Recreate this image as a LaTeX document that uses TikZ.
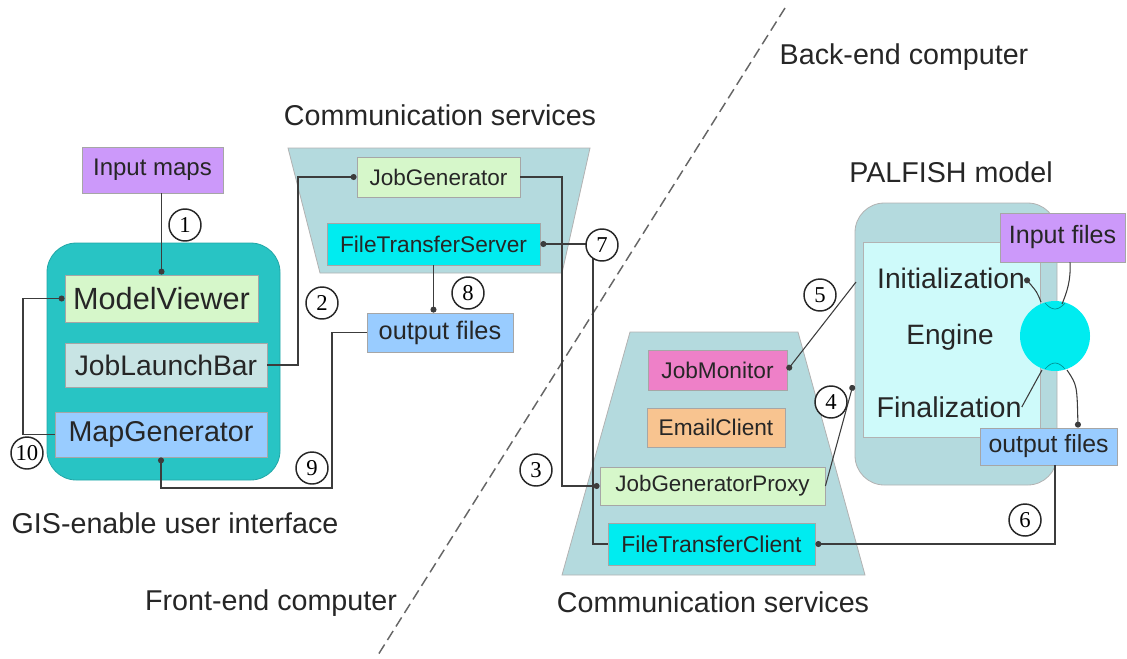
\documentclass[tikz,border=0pt]{standalone}
\usepackage{fontspec}
\setmainfont{Liberation Sans}
\newfontfamily\numfont{Liberation Serif}
\usetikzlibrary{arrows.meta}

\definecolor{cpurple}{RGB}{204,153,250}
\definecolor{cgreen}{RGB}{214,247,202}
\definecolor{cgrayblue}{RGB}{200,228,228}
\definecolor{cblue}{RGB}{153,204,255}
\definecolor{ccyan}{RGB}{0,236,240}
\definecolor{cpink}{RGB}{238,128,200}
\definecolor{corange}{RGB}{248,196,144}
\definecolor{cteal}{RGB}{40,196,196}
\definecolor{cpanel}{RGB}{180,218,222}
\definecolor{cengine}{RGB}{206,250,250}
\definecolor{cline}{RGB}{60,60,60}
\definecolor{ctext}{RGB}{38,38,38}

\begin{document}
\begin{tikzpicture}[x=0.75pt,y=-0.75pt,
  sz/.style 2 args={minimum width=#1*0.75pt, minimum height=#2*0.75pt},
  box/.style={draw=black!35, line width=0.6pt, inner sep=0pt, text=ctext},
  fs/.style={font=\fontsize{#1}{#1}\selectfont},
  conn/.style={draw=cline, line width=0.8pt, -{Circle[length=4.5pt]}},
  wire/.style={draw=cline, line width=0.8pt},
  numc/.style={circle, draw=black!85, fill=white, line width=1.1pt, minimum size=24pt,
               inner sep=0pt, font=\numfont\fontsize{17}{17}\selectfont},
  title/.style={text=ctext, font=\fontsize{21.5}{24}\selectfont},
  plaintext/.style={text=ctext, inner sep=0pt}
]
\useasboundingbox (0,0) rectangle (1127,658);

% front-end / back-end divider
\draw[black!60, line width=1.1pt, dash pattern=on 8pt off 4pt] (785,8) -- (378,655);

% section titles
\node[title] (backlbl) at (904,57) {Back-end computer};
\node[title] (comtop) at (440,115) {Communication services};
\node[title] (palfishlbl) at (951,172) {PALFISH model};
\node[title] (gislbl) at (175,523) {GIS-enable user interface};
\node[title] (frontlbl) at (271,603) {Front-end computer};
\node[title] (combot) at (713,602) {Communication services};

% containers
\draw[fill=cteal, draw=cteal!85!black, line width=0.6pt, rounded corners=22pt] (47,243) rectangle (280,480);
\draw[fill=cpanel, draw=black!30, line width=0.6pt] (288,148) -- (590,148) -- (562,273) -- (320,273) -- cycle;
\draw[fill=cpanel, draw=black!30, line width=0.6pt] (630,332) -- (798,332) -- (865,575) -- (562,575) -- cycle;
\draw[fill=cpanel, draw=black!30, line width=0.6pt, rounded corners=22pt] (855,203) rectangle (1057,485);
\draw[fill=cengine, draw=black!30, line width=0.6pt] (863,242) rectangle (1040,437);

% boxes: user interface
\node[box, fill=cpurple, sz={141}{46}, fs=18] (inmaps) at (152.5,170) {Input maps};
\node[box, fill=cgreen, sz={193}{47}, fs=23] (mview) at (161.5,298.5) {ModelViewer};
\node[box, fill=cgrayblue, sz={202}{44}, fs=21.2] (jlb) at (166,365) {JobLaunchBar};
\node[box, fill=cblue, sz={212}{45}, fs=21.5] (mgen) at (161,434.5) {MapGenerator};

% boxes: front-end communication services
\node[box, fill=cgreen, sz={163}{40}, fs=16.9] (jgen) at (438.5,177) {JobGenerator};
\node[box, fill=ccyan, sz={213}{42}, fs=17] (fts) at (433.5,244) {FileTransferServer};
\node[box, fill=cblue, sz={146}{39}, fs=19] (outm) at (440,332.5) {output files};

% boxes: back-end communication services
\node[box, fill=cpink, sz={139}{40}, fs=17] (jmon) at (717.5,370) {JobMonitor};
\node[box, fill=corange, sz={138}{39}, fs=17] (email) at (716,427.5) {EmailClient};
\node[box, fill=cgreen, sz={225}{38}, fs=16.8] (jgp) at (712.5,486) {JobGeneratorProxy};
\node[box, fill=ccyan, sz={207}{42}, fs=17.2] (ftc) at (711.5,544) {FileTransferClient};

% PALFISH model
\node[circle, fill=ccyan, minimum size=52.5pt, inner sep=0pt] (ball) at (1055,336) {};
\draw[ccyan!60!black, line width=0.5pt] (1045,303) .. controls (1052,311) and (1058,311) .. (1065,303);
\draw[ccyan!60!black, line width=0.5pt] (1045,369) .. controls (1052,361) and (1058,361) .. (1065,369);
\node[box, fill=cpurple, sz={125}{49}, fs=18.8] (infiles) at (1062.5,237.5) {Input files};
\node[box, fill=cblue, sz={137}{37}, fs=18.6] (outr) at (1048.5,446.5) {output files};
\node[plaintext, fs=21.2] (init) at (951,278) {Initialization};
\node[plaintext, fs=21] (engine) at (950,337) {Engine};
\node[plaintext, fs=21.5] (final) at (949,407) {Finalization};

\draw[wire] (infiles.south -| 1070,0) .. controls (1071,280) and (1067,292) .. (1062,304);
\draw[conn] (1041,302) .. controls (1037,292) .. (init.east);
\draw[wire] (1042,370) -- (final.east);
\draw[conn] (1067,370) .. controls (1077,385) .. (outr.north -| 1078,0);

% bend points of the connectors
\coordinate (k2) at (298,365);
\coordinate (k3) at (562,177);
\coordinate (k7a) at (593,544);
\coordinate (k7b) at (593,244);
\coordinate (k9a) at (332,332.5);
\coordinate (k9b) at (332,488);
\coordinate (k10) at (23,434.5);
\coordinate (k6) at (1055,544);
\coordinate (p5) at (856,282);
\coordinate (p4) at (853,385);

% connectors
\draw[conn] (mview.north |- inmaps.south) -- (mview.north);
\draw[conn] (jlb.east) -- (k2) |- (jgen.west);
\draw[conn] (jgen.east) -- (k3) |- (jgp.west);
\draw[conn] (jgp.east) -- (p4);
\draw[conn] (p5) -- (jmon.east);
\draw[conn] (outr.south -| k6) -- (k6) -- (ftc.east);
\draw[conn] (ftc.west) -- (k7a) -- (k7b) -- (fts.east);
\draw[conn] (fts.south) -- (fts.south |- outm.north);
\draw[conn] (outm.west) -- (k9a) -- (k9b) -| (mgen.south);
\draw[conn] (mgen.west) -- (k10) |- (mview.west);

% step numbers
\node[numc] (n1) at (185,225) {1};
\node[numc] (n2) at (322,303) {2};
\node[numc] (n3) at (536,470) {3};
\node[numc] (n4) at (831,402) {4};
\node[numc] (n5) at (820,295) {5};
\node[numc] (n6) at (1025,520) {6};
\node[numc] (n7) at (602,245) {7};
\node[numc] (n8) at (468,293) {8};
\node[numc] (n9) at (312,468) {9};
\node[numc] (n10) at (27,453) {10};
\end{tikzpicture}
\end{document}
